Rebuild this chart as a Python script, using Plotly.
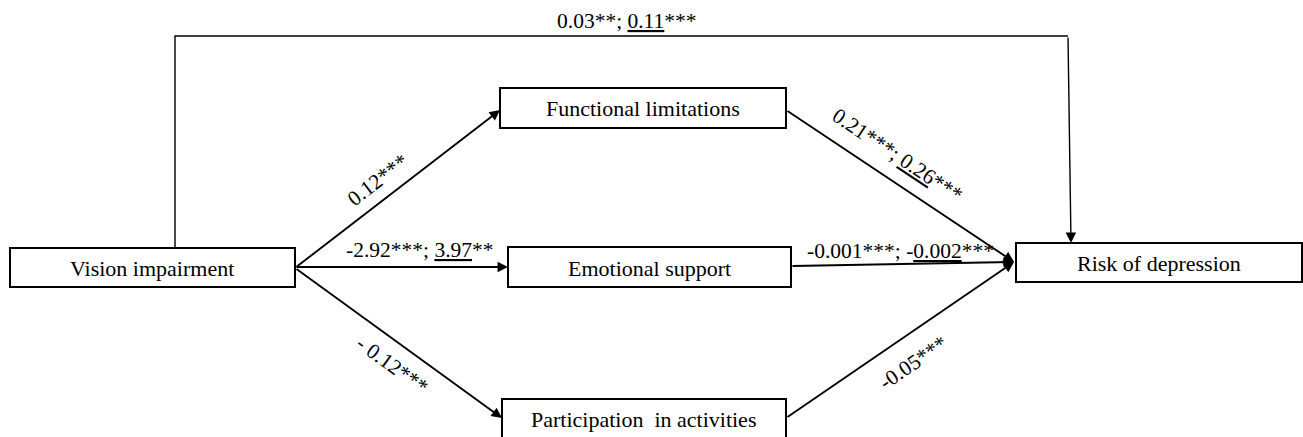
import math
import plotly.graph_objects as go

# ---- data ----
node_names = ["Vision impairment", "Functional limitations", "Emotional support",
              "Participation  in activities", "Risk of depression"]
edge_pairs = [("Vision impairment", "Functional limitations"),
              ("Vision impairment", "Emotional support"),
              ("Vision impairment", "Participation  in activities"),
              ("Functional limitations", "Risk of depression"),
              ("Emotional support", "Risk of depression"),
              ("Participation  in activities", "Risk of depression"),
              ("Vision impairment", "Risk of depression")]
edge_labels = ["0.12***",
               "-2.92***; <u>3.97</u>**",
               "- 0.12***",
               "0.21***; <u>0.26</u>***",
               "-0.001***; -<u>0.002</u>***",
               "-0.05***",
               "0.03**; <u>0.11</u>***"]

# ---- layout geometry (pixel space of the canvas) ----
W, H = 1303, 437
boxes = {
    "Vision impairment": (10, 248, 295, 287),
    "Functional limitations": (500, 88, 786, 128),
    "Emotional support": (508, 247, 791, 287),
    "Participation  in activities": (502, 399, 786, 446),
    "Risk of depression": (1016, 243, 1302, 282),
}
text_pos = {
    "Vision impairment": (152, 268),
    "Functional limitations": (643, 108),
    "Emotional support": (649, 268),
    "Participation  in activities": (643, 419),
    "Risk of depression": (1159, 263),
}
edge_geo = [
    ((295, 268), (500, 110)),
    ((295, 267), (508, 267)),
    ((295, 268), (502, 418)),
    ((786, 110), (1014, 262)),
    ((791, 266), (1014, 262)),
    ((786, 418), (1014, 262)),
    None,
]
direct_path = [(175, 248), (175, 36), (1068, 36)]
direct_tip = (1071, 243)
label_pos = [(378, 180), (420, 250), (392, 365), (897, 155), (900, 251), (913, 363), (627, 21)]
label_rot = [True, False, True, True, False, True, False]

FONT = "Liberation Serif"
fig = go.Figure()

# direct path line
fig.add_trace(go.Scatter(x=[p[0] for p in direct_path], y=[p[1] for p in direct_path],
                         mode="lines", line=dict(color="black", width=1.4),
                         hoverinfo="skip", showlegend=False))

shapes = []
for n in node_names:
    x0, y0, x1, y1 = boxes[n]
    shapes.append(dict(type="rect", xref="x", yref="y", x0=x0, y0=y0, x1=x1, y1=y1,
                       line=dict(color="black", width=2), fillcolor="white", layer="above"))

ann = []
for n in node_names:
    tx, ty = text_pos[n]
    ann.append(dict(x=tx, y=ty, xref="x", yref="y", text=n, showarrow=False,
                    font=dict(family=FONT, size=22, color="black")))

for i, geo in enumerate(edge_geo):
    if geo is None:
        continue
    (sx, sy), (ex, ey) = geo
    ann.append(dict(x=ex, y=ey, ax=sx, ay=sy, xref="x", yref="y", axref="x", ayref="y",
                    text="", showarrow=True, arrowhead=2, arrowsize=1.1, arrowwidth=1.9,
                    arrowcolor="black"))

# direct path final arrow
ann.append(dict(x=direct_tip[0], y=direct_tip[1], ax=direct_path[-1][0], ay=direct_path[-1][1],
                xref="x", yref="y", axref="x", ayref="y", text="", showarrow=True,
                arrowhead=2, arrowsize=1.5, arrowwidth=1.4, arrowcolor="black"))

for i, lab in enumerate(edge_labels):
    ang = 0
    if label_rot[i]:
        (sx, sy), (ex, ey) = edge_geo[i]
        ang = math.degrees(math.atan2(ey - sy, ex - sx))
    lx, ly = label_pos[i]
    ann.append(dict(x=lx, y=ly, xref="x", yref="y", text=lab, showarrow=False,
                    textangle=ang, font=dict(family=FONT, size=21.5, color="black")))

fig.update_layout(
    width=W, height=H, margin=dict(l=0, r=0, t=0, b=0),
    paper_bgcolor="white", plot_bgcolor="white",
    xaxis=dict(range=[0, W], visible=False, fixedrange=True),
    yaxis=dict(range=[H, 0], visible=False, fixedrange=True),
    shapes=shapes, annotations=ann, showlegend=False,
)
fig.write_html("out.html", config={"displayModeBar": False},
               post_script="document.body.style.margin='0';document.body.style.overflow='hidden';")
